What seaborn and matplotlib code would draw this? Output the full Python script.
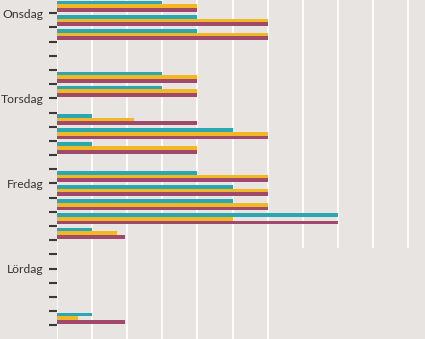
import matplotlib
matplotlib.use("Agg")
import matplotlib.pyplot as plt
from matplotlib.patches import Rectangle
import seaborn as sns
import pandas as pd

# Time slots (six per day), top to bottom
days = ["Onsdag", "Torsdag", "Fredag", "Lördag"]
slots = [f"s{i:02d}" for i in range(24)]

series = ["A", "B", "C"]
teal = [3, 4, 4, 0, 0, 3, 3, 0, 1, 5, 1, 0, 4, 5, 5, 8, 1, 0, 0, 0, 0, 0, 1, 0]
yellow = [4, 6, 6, 0, 0, 4, 4, 0, 2.2, 6, 4, 0, 6, 6, 6, 5, 1.7, 0, 0, 0, 0, 0, 0.6, 0]
maroon = [4, 6, 6, 0, 0, 4, 4, 0, 4, 6, 4, 0, 6, 6, 6, 8, 1.95, 0, 0, 0, 0, 0, 1.95, 0]

colors = ["#2aa7b0", "#f2b824", "#a1496a"]
bg = "#e8e4e1"

df = pd.DataFrame({
    "slot": slots * 3,
    "series": [s for s in series for _ in slots],
    "value": teal + yellow + maroon,
})

W, H = 425, 339
fig = plt.figure(figsize=(W / 100, H / 100), dpi=100, facecolor=bg)
left = 56.7 / W
ax = fig.add_axes([left, 0, 1 - left, 1])
ax.set_facecolor(bg)

sns.barplot(data=df, x="value", y="slot", hue="series", order=slots,
            hue_order=series, palette=colors, orient="h", width=0.78,
            gap=0, errorbar=None, saturation=1, linewidth=0, legend=False,
            ax=ax)

ax.set_axisbelow(True)
ax.set_xlim(0, 10.47)
ax.set_xticks(range(0, 11))
ax.xaxis.grid(True, color="white", linewidth=1.3)
ax.tick_params(axis="x", length=0, labelbottom=False)
ax.set_xlabel("")
ax.set_ylabel("")

# y ticks sit on slot boundaries; every sixth boundary carries a day name
tick_pos = [k + 0.5 for k in range(-1, 24)]
tick_lab = [days[k // 6] if (k >= 0 and k % 6 == 0) else "" for k in range(-1, 24)]
ax.set_yticks(tick_pos)
ax.set_yticklabels(tick_lab, fontfamily="Lato", fontsize=8.7, color="#353535")
ax.tick_params(axis="y", length=5.5, width=1.5, color="#3a3a3a", pad=3.8)
ax.set_ylim(23.47, -0.438)

for s in ax.spines.values():
    s.set_visible(False)

# plain panel in the lower right corner
ax.add_patch(Rectangle((0.62, 0), 0.38, (H - 248) / H, transform=ax.transAxes,
                       facecolor=bg, edgecolor="none", zorder=0.8))

fig.savefig("out.png", dpi=100, facecolor=bg)
